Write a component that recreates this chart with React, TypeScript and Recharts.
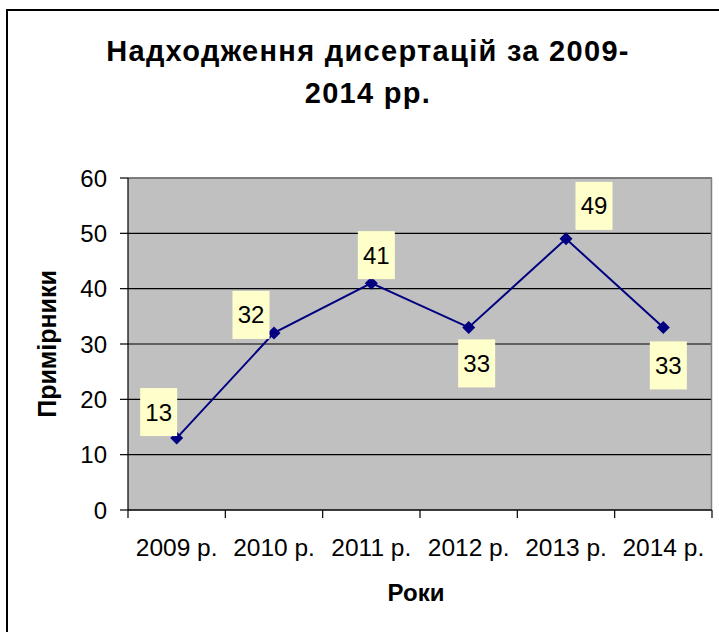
import React from "react";
import { LineChart, Line, XAxis, YAxis, CartesianGrid, LabelList } from "recharts";

const years = ["2009 р.", "2010 р.", "2011 р.", "2012 р.", "2013 р.", "2014 р."];
const counts = [13, 32, 41, 33, 49, 33];
const yTicks = [0, 10, 20, 30, 40, 50, 60];

// where each value box sits relative to its point
const labelShift = [
    [-18, -26],
    [-23, -18],
    [5, -28],
    [8, 36],
    [28, -33],
    [5, 38],
];

const data = years.map((year, i) => ({ year, count: counts[i] }));

const W = 719;
const H = 632;
const margin = { top: 178, right: 7, bottom: 0, left: 28 };
const plotWidth = W - 128 - margin.right;
const band = plotWidth / years.length;
const font = "'Liberation Sans', Arial, sans-serif";

function Diamond({ cx, cy }: any) {
    const r = 6.5;
    return <path d={`M${cx},${cy - r}L${cx + r},${cy}L${cx},${cy + r}L${cx - r},${cy}Z`} fill="#000080" />;
}

function ValueBox({ x, y, value, index }: any) {
    const [dx, dy] = labelShift[index];
    const cx = x + dx;
    const cy = y + dy;
    return (
        <g>
            <rect x={cx - 18.5} y={cy - 24} width={37} height={48} fill="#FFFFCC" />
            <text x={cx} y={cy + 8.5} textAnchor="middle" fontSize={24} fontFamily={font} fill="#000">
                {value}
            </text>
        </g>
    );
}

function YearTick({ x, y, payload, index }: any) {
    const left = x - band / 2;
    return (
        <g>
            <line x1={left} x2={left} y1={y - 8} y2={y} stroke="#000" strokeWidth={1.2} />
            {index === years.length - 1 && (
                <line x1={x + band / 2} x2={x + band / 2} y1={y - 8} y2={y} stroke="#000" strokeWidth={1.2} />
            )}
            <text x={x} y={y + 38} textAnchor="middle" fontSize={24.5} fontFamily={font} fill="#000">
                {payload.value}
            </text>
        </g>
    );
}

export default function App() {
    return (
        <div style={{ position: "absolute", left: 0, top: 0, width: W, height: H, background: "#fff", overflow: "hidden" }}>
            <div
                style={{
                    position: "absolute",
                    left: 6,
                    top: 9,
                    width: W,
                    height: H,
                    borderLeft: "2px solid #000",
                    borderTop: "2px solid #000",
                }}
            />
            <div
                style={{
                    position: "absolute",
                    left: 0,
                    top: 30,
                    width: 736,
                    textAlign: "center",
                    fontFamily: font,
                    fontWeight: "bold",
                    fontSize: 29,
                    letterSpacing: "1.3px",
                    lineHeight: "42px",
                    color: "#000",
                }}
            >
                Надходження дисертацій за 2009-
                <br />
                2014 рр.
            </div>
            <div style={{ position: "absolute", left: 0, top: 0 }}>
                <LineChart width={W} height={H} data={data} margin={margin}>
                    <CartesianGrid vertical={false} stroke="#000" strokeWidth={1.2} fill="#C0C0C0" fillOpacity={1} />
                    <CartesianGrid
                        stroke="#808080"
                        strokeWidth={1.5}
                        horizontalCoordinatesGenerator={({ offset }: any) => [offset.top]}
                        verticalCoordinatesGenerator={({ offset }: any) => [offset.left + offset.width - 0.5]}
                    />
                    <XAxis
                        dataKey="year"
                        height={122}
                        padding={{ left: band / 2, right: band / 2 }}
                        tickSize={8}
                        tickMargin={0}
                        tickLine={false}
                        axisLine={{ stroke: "#000", strokeWidth: 1.2 }}
                        tick={<YearTick />}
                        interval={0}
                        label={{
                            content: ({ viewBox }: any) => (
                                <text
                                    x={viewBox.x + viewBox.width / 2 - 4}
                                    y={601}
                                    textAnchor="middle"
                                    fontSize={24}
                                    fontWeight="bold"
                                    fontFamily={font}
                                    fill="#000"
                                >
                                    Роки
                                </text>
                            ),
                        }}
                    />
                    <YAxis
                        width={100}
                        domain={[0, 60]}
                        ticks={yTicks}
                        interval={0}
                        tickSize={8}
                        tickMargin={13}
                        tick={{ fontSize: 24, fontFamily: font, fill: "#000" }}
                        tickLine={{ stroke: "#000", strokeWidth: 1.2 }}
                        axisLine={{ stroke: "#000", strokeWidth: 1.2 }}
                        label={{
                            content: ({ viewBox }: any) => (
                                <text
                                    x={56}
                                    y={viewBox.y + viewBox.height / 2}
                                    transform={`rotate(-90, 56, ${viewBox.y + viewBox.height / 2})`}
                                    textAnchor="middle"
                                    fontSize={25}
                                    fontWeight="bold"
                                    fontFamily={font}
                                    fill="#000"
                                >
                                    Примірники
                                </text>
                            ),
                        }}
                    />
                    <Line
                        type="linear"
                        dataKey="count"
                        stroke="#000080"
                        strokeWidth={2}
                        dot={<Diamond />}
                        activeDot={false}
                        isAnimationActive={false}
                    >
                        <LabelList dataKey="count" content={<ValueBox />} />
                    </Line>
                </LineChart>
            </div>
        </div>
    );
}
